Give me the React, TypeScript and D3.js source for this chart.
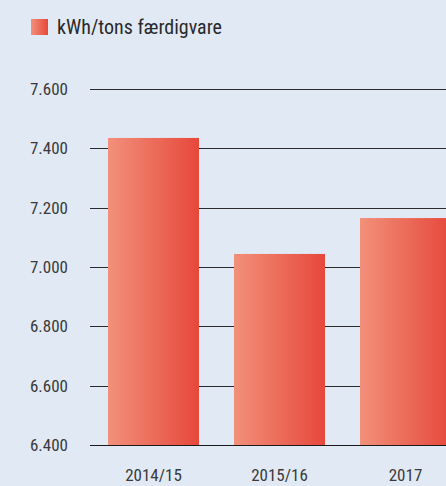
import React, { useEffect, useRef } from "react";
import * as d3 from "d3";

const categories = ["2014/15", "2015/16", "2017"];
const values = [7435, 7044, 7165];
const yTicks = [6400, 6600, 6800, 7000, 7200, 7400, 7600];
const legendLabel = "kWh/tons færdigvare";

const App = () => {
  const ref = useRef<SVGSVGElement>(null);

  useEffect(() => {
    const width = 446;
    const height = 486;
    const margin = { top: 89, left: 90, bottom: 41 };
    const font = "'Liberation Sans Narrow', 'Roboto Condensed', 'DejaVu Sans Condensed', sans-serif";

    const svg = d3.select(ref.current);
    svg.selectAll("*").remove();

    svg.append("rect").attr("width", width).attr("height", height).attr("fill", "#e1e9f5");

    const defs = svg.append("defs");
    const grad = defs
      .append("linearGradient")
      .attr("id", "barGrad")
      .attr("x1", "0%")
      .attr("x2", "100%")
      .attr("y1", "0%")
      .attr("y2", "0%");
    grad.append("stop").attr("offset", "0%").attr("stop-color", "#f2907a");
    grad.append("stop").attr("offset", "100%").attr("stop-color", "#e6483b");

    const y = d3
      .scaleLinear()
      .domain([6400, 7600])
      .range([height - margin.bottom, margin.top]);

    const x = d3
      .scaleBand()
      .domain(categories)
      .range([margin.left, 469])
      .paddingInner(0.278)
      .paddingOuter(0.143);

    // gridlines
    svg
      .append("g")
      .selectAll("line")
      .data(yTicks)
      .join("line")
      .attr("x1", margin.left)
      .attr("x2", width)
      .attr("y1", (d) => Math.round(y(d)) + 0.5)
      .attr("y2", (d) => Math.round(y(d)) + 0.5)
      .attr("stroke", "#2b2b2b")
      .attr("stroke-width", 1.2);

    // y labels
    svg
      .append("g")
      .selectAll("text")
      .data(yTicks)
      .join("text")
      .attr("x", 68)
      .attr("y", (d) => y(d) + 6)
      .attr("text-anchor", "end")
      .attr("font-family", font)
      .attr("font-size", 17)
      .attr("fill", "#3a3a3a")
      .text((d) => d3.format(",")(d).replace(",", "."));

    // bars
    svg
      .append("g")
      .selectAll("rect")
      .data(values)
      .join("rect")
      .attr("x", (d, i) => x(categories[i]) as number)
      .attr("width", x.bandwidth())
      .attr("y", (d) => y(d))
      .attr("height", (d) => y(6400) - y(d))
      .attr("fill", "url(#barGrad)");

    // baseline
    svg
      .append("line")
      .attr("x1", margin.left)
      .attr("x2", width)
      .attr("y1", Math.round(y(6400)) + 0.5)
      .attr("y2", Math.round(y(6400)) + 0.5)
      .attr("stroke", "#1a1a1a")
      .attr("stroke-width", 1.2);

    // x labels
    svg
      .append("g")
      .selectAll("text")
      .data(categories)
      .join("text")
      .attr("x", (d) => (x(d) as number) + x.bandwidth() / 2)
      .attr("y", 481)
      .attr("text-anchor", "middle")
      .attr("font-family", font)
      .attr("font-size", 17)
      .attr("fill", "#3a3a3a")
      .text((d) => d);

    // legend
    svg
      .append("rect")
      .attr("x", 31)
      .attr("y", 19)
      .attr("width", 17)
      .attr("height", 16)
      .attr("fill", "url(#barGrad)");
    svg
      .append("text")
      .attr("x", 57)
      .attr("y", 34)
      .attr("font-family", font)
      .attr("font-size", 20)
      .attr("fill", "#2a2a2a")
      .text(legendLabel);
  }, []);

  return (
    <div style={{ position: "absolute", left: 0, top: 0 }}>
      <svg ref={ref} width={446} height={486} style={{ display: "block" }} />
    </div>
  );
};

export default App;
